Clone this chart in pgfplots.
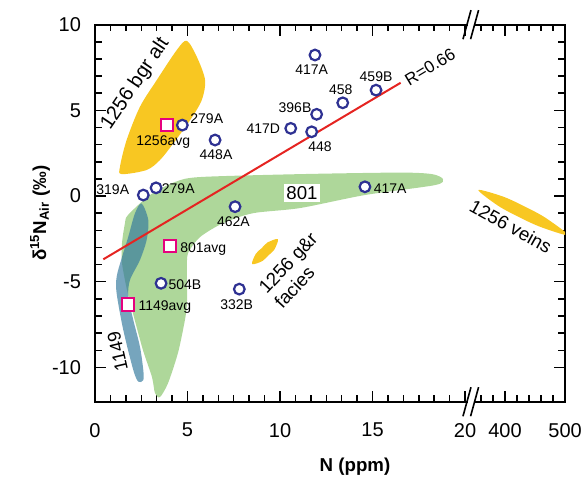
\documentclass[border=0pt]{standalone}
\usepackage{fontspec}
\setmainfont{Liberation Sans}
\usepackage{pgfplots}
\pgfplotsset{compat=1.18}
\definecolor{ylw}{HTML}{F8C722}
\definecolor{grn}{HTML}{AED79A}
\definecolor{blu}{RGB}{51,121,157}
\definecolor{navy}{HTML}{2E3192}
\definecolor{pnk}{HTML}{E6007E}
\definecolor{rd}{HTML}{E52421}
\newcommand\lab{\fontsize{10.5}{12}\selectfont}
\begin{document}
\begin{tikzpicture}
\begin{axis}[
  scale only axis, width=352.6pt, height=282.8pt,
  xmin=0, xmax=25.41, ymin=-12, ymax=10,
  clip mode=individual,
  axis line style={line width=1.5pt},
  tick style={line width=1.1pt, black},
  major tick length=8.25pt, minor tick length=5pt,
  xtick={0,5,10,15,20,22.16,25.41},
  xticklabels={0,5,10,15,20,400,500},
  minor xtick={0.8333,1.6667,2.5,3.3333,4.1667,5.8333,6.6667,7.5,8.3333,9.1667,10.8333,11.6667,12.5,13.3333,14.1667,15.8333,16.6667,17.5,18.3333,19.1667,20.86,21.51,22.81,23.46,24.11,24.76},
  ytick={-10,-5,0,5,10},
  yticklabels={-10,-5,0,5,10},
  minor y tick num=4,
  tick label style={font=\fontsize{15}{18}\selectfont},
  xticklabel style={yshift=-12.5pt},
  yticklabel style={xshift=-7pt},
  xlabel={\textbf{N (ppm)}},
  ylabel={\textbf{δ\textsuperscript{15}N\textsubscript{Air} (‰)}},
  label style={font=\fontsize{14}{16}\selectfont},
  xlabel style={at={(axis description cs:0.553,-0.173)}, anchor=center},
  ylabel style={at={(axis description cs:-0.117,0.5)}, anchor=center},
]
% 1256 bgr alt
\addplot[fill=ylw, draw=none, smooth cycle] coordinates {
(4.96,9.06) (5.50,8.13) (5.95,6.77) (5.77,5.60) (5.14,4.43) (4.23,3.07) (3.51,2.10) (2.79,1.52) (1.44,1.28) (1.35,1.71) (1.71,3.27) (2.43,5.21) (3.34,6.77) (4.42,8.52)};
% 801 field
\addplot[fill=grn, draw=none, smooth cycle, tension=0.45] coordinates {
(1.78,-1.11) (2.97,0.06) (4.32,0.82) (5.68,1.11) (11.08,1.28) (16.49,1.37) (18.22,1.28) (18.81,0.99) (18.38,0.64) (14.59,0.06) (11.08,-0.70) (8.54,-1.00) (6.92,-1.58) (5.68,-2.39) (5.03,-3.33) (4.97,-4.32) (4.97,-6.24) (4.86,-7.23) (4.49,-9.13) (3.95,-10.91) (3.51,-11.73) (3.24,-11.49) (3.08,-10.56) (2.59,-8.98) (2.05,-6.83) (1.73,-5.48) (1.46,-3.91) (1.46,-2.74) (1.62,-1.58)};
% 1149 field
\addplot[fill=blu, fill opacity=0.67, draw=none, smooth cycle] coordinates {
(2.52,-0.43) (2.88,-1.40) (2.79,-2.57) (2.43,-3.73) (1.89,-4.90) (1.80,-5.88) (2.07,-7.23) (2.43,-8.79) (2.61,-10.15) (2.61,-10.74) (2.34,-10.83) (2.07,-10.15) (1.53,-7.82) (1.17,-5.68) (1.17,-4.71) (1.44,-3.63) (1.80,-2.37) (2.16,-1.01)};
% 1256 g&r facies
\addplot[fill=ylw, draw=none, smooth cycle] coordinates {
(8.49,-3.97) (9.05,-3.79) (9.37,-3.46) (9.69,-3.13) (9.89,-2.51) (9.32,-2.71) (9.01,-3.04) (8.69,-3.37)};
% 1256 veins
\addplot[fill=ylw, draw=none, smooth cycle] coordinates {
(20.72,0.35) (22.03,-0.02) (23.21,-0.60) (24.35,-1.27) (25.57,-2.28) (24.10,-1.81) (22.92,-1.23) (21.78,-0.56)};
% regression line
\addplot[rd, line width=1.5pt] coordinates {(0.45,-3.69) (16.52,6.61)};
% samples
\addplot[only marks, mark=*, mark size=4pt, mark options={draw=navy, fill=white, line width=1.65pt}] coordinates {
(11.89,8.23) (15.19,6.18) (13.39,5.44) (11.98,4.77) (10.58,3.95) (11.71,3.75) (4.72,4.14) (6.49,3.27) (2.61,0.06) (3.30,0.48) (7.57,-0.62) (14.59,0.54) (3.57,-5.09) (7.80,-5.43)};
% averages
\addplot[only marks, mark=square*, mark size=4.6pt, mark options={draw=pnk, fill=white, line width=1.5pt}] coordinates {
(3.88,4.14) (4.05,-2.92) (1.77,-6.32)};
% point labels
\node[font=\lab] at (axis cs:11.71,7.35) {417A};
\node[font=\lab] at (axis cs:15.19,6.94) {459B};
\node[font=\lab] at (axis cs:13.28,6.23) {458};
\node[font=\lab] at (axis cs:10.81,5.18) {396B};
\node[font=\lab] at (axis cs:9.10,3.95) {417D};
\node[font=\lab] at (axis cs:12.16,2.88) {448};
\node[font=\lab] at (axis cs:6.04,4.49) {279A};
\node[font=\lab] at (axis cs:3.69,3.17) {1256avg};
\node[font=\lab] at (axis cs:6.54,2.39) {448A};
\node[font=\lab] at (axis cs:0.96,0.35) {319A};
\node[font=\lab] at (axis cs:4.50,0.41) {279A};
\node[font=\lab] at (axis cs:7.48,-1.50) {462A};
\node[font=\lab] at (axis cs:15.95,0.41) {417A};
\node[font=\lab] at (axis cs:5.85,-3.11) {801avg};
\node[font=\lab] at (axis cs:4.86,-5.19) {504B};
\node[font=\lab] at (axis cs:7.66,-6.36) {332B};
\node[font=\lab] at (axis cs:3.78,-6.46) {1149avg};
% region labels
\node[font=\fontsize{14}{15}\selectfont, fill=white, inner sep=1.8pt] at (axis cs:11.19,0.18) {801};
\node[font=\fontsize{15}{17}\selectfont, rotate=56] at (axis cs:2.18,6.55) {1256 bgr alt};
\node[font=\fontsize{14}{16}\selectfont, rotate=-29] at (axis cs:22.47,-1.75) {1256 veins};
\node[font=\fontsize{14}{16}\selectfont, rotate=47, align=left] at (axis cs:10.86,-4.32) {1256 g\&r\\facies};
\node[font=\fontsize{13.8}{15}\selectfont, rotate=103] at (axis cs:1.22,-9.08) {1149};
\node[font=\fontsize{12.7}{14}\selectfont, rotate=31] at (axis cs:18.11,7.54) {R=0.66};
\coordinate (bb) at (axis cs:20.31,-12);
\coordinate (bt) at (axis cs:20.31,10);
\end{axis}
\foreach \c in {bb,bt}{
  \fill[white] ([shift={(-2.4pt,-1.4pt)}]\c) rectangle ([shift={(2.4pt,1.4pt)}]\c);
  \draw[line width=1.2pt] ([shift={(-5.85pt,-10.9pt)}]\c) -- ([shift={(0.15pt,10.9pt)}]\c);
  \draw[line width=1.2pt] ([shift={(-0.15pt,-10.9pt)}]\c) -- ([shift={(5.85pt,10.9pt)}]\c);
}
\pgfresetboundingbox
\path[use as bounding box] (-71.25pt,-58pt) rectangle (365.25pt,301.3pt);
\end{tikzpicture}
\end{document}
